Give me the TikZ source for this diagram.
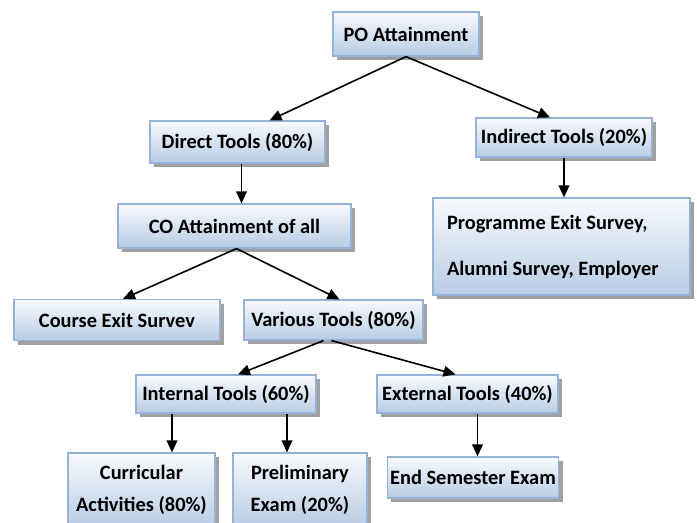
\documentclass[tikz,border=0pt]{standalone}
\usepackage{fontspec}
\setmainfont{Carlito}
\usepackage{tikz}
\usetikzlibrary{arrows.meta, positioning, shadows}

\definecolor{boxtop}{RGB}{247,250,253}
\definecolor{boxbot}{RGB}{184,204,228}
\definecolor{boxline}{RGB}{149,179,215}
\definecolor{boxshade}{RGB}{160,160,160}

\begin{document}
\begin{tikzpicture}[
        x=0.75pt, y=-0.75pt,
        every node/.style={font=\bfseries\fontsize{15.3}{18}\selectfont, text=black, align=center},
        toolbox/.style={rectangle, draw=boxline, line width=0.9pt, top color=boxtop, bottom color=boxbot,
            drop shadow={shadow xshift=3pt, shadow yshift=-3pt, fill=boxshade, opacity=1}, inner sep=2pt},
        link/.style={draw=black, line width=1.2pt, -{Triangle[length=9pt,width=8pt]}}
    ]
        \def\u{0.75pt}
        \useasboundingbox (0,0) rectangle (697,522);

        % --- Top level ---
        \node[toolbox, minimum width=146*\u, minimum height=44*\u] (po) at (406,34) {PO Attainment};
        \node[toolbox, minimum width=175*\u, minimum height=42*\u] (direct) at (237.5,142) {Direct Tools (80\%)};
        \node[toolbox, minimum width=176*\u, minimum height=39*\u] (indirect) at (564,137.5) {Indirect Tools (20\%)};

        % Indirect side
        \node[toolbox, minimum width=257*\u, minimum height=97*\u, text width=229*\u, align=flush left] (survey) at (561.5,246.5)
            {Programme Exit Survey,\\[16.5pt]Alumni Survey, Employer};

        % --- Direct side ---
        \node[toolbox, minimum width=233*\u, minimum height=44*\u] (co) at (234.5,226) {CO Attainment of all};
        \node[toolbox, minimum width=206*\u, minimum height=41*\u] (course) at (117,320) {Course Exit Survev};
        \node[toolbox, minimum width=179*\u, minimum height=40*\u] (various) at (333.5,320) {Various Tools (80\%)};

        \node[toolbox, minimum width=180*\u, minimum height=38*\u] (internal) at (226,394) {Internal Tools (60\%)};
        \node[toolbox, minimum width=181*\u, minimum height=38*\u] (external) at (467.5,394) {External Tools (40\%)};

        % Bottom row (runs off the page)
        \node[toolbox, minimum width=147*\u, minimum height=74*\u] (curricular) at (141.5,490) {Curricular\\[6.5pt]Activities (80\%)};
        \node[toolbox, minimum width=134*\u, minimum height=74*\u] (prelim) at (300,490) {Preliminary\\[6.5pt]Exam (20\%)};
        \node[toolbox, minimum width=168*\u, minimum height=41*\u] (endsem) at (473,477.5) {End Semester Exam};

        % --- Arrows ---
        \draw[link] (po.south) -- ([xshift=32*\u]direct.north);
        \draw[link] (po.south) -- ([xshift=-14*\u]indirect.north);
        \draw[link] ([xshift=4*\u]direct.south) -- ([xshift=4*\u]direct.south |- co.north);
        \draw[link] (indirect.south) -- (indirect.south |- survey.north);

        \draw[link] ([xshift=2*\u]co.south) -- ([xshift=6*\u]course.north);
        \draw[link] ([xshift=2*\u]co.south) -- ([xshift=6*\u]various.north);

        \draw[link] ([xshift=-10*\u]various.south) -- ([xshift=12*\u]internal.north);
        \draw[link] ([xshift=-2*\u]various.south) -- ([xshift=-12*\u]external.north);

        \draw[link] ([xshift=-54*\u]internal.south) -- ([xshift=-54*\u]internal.south |- curricular.north);
        \draw[link] ([xshift=61*\u]internal.south) -- ([xshift=61*\u]internal.south |- prelim.north);
        \draw[link] ([xshift=10*\u]external.south) -- ([xshift=10*\u]external.south |- endsem.north);

    \end{tikzpicture}
\end{document}
